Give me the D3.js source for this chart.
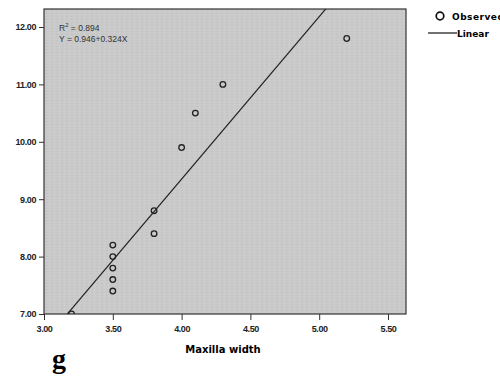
<!DOCTYPE html>
<html>
<head>
<meta charset="utf-8">
<script src="https://cdn.jsdelivr.net/npm/d3@7"></script>
<style>
  body { margin: 0; background: #fff; }
  svg { display: block; }
  .tick text { font-family: "Liberation Sans Narrow", "Liberation Sans", Arial, sans-serif; font-weight: bold; font-size: 9px; fill: #222; letter-spacing: -0.4px; }
</style>
</head>
<body>
<script>
// observed points
const maxillaWidth = [5.2, 4.3, 4.1, 4.0, 3.8, 3.8, 3.5, 3.5, 3.5, 3.5, 3.5, 3.2];
const observedY    = [11.8, 11.0, 10.5, 9.9, 8.8, 8.4, 8.2, 8.0, 7.8, 7.6, 7.4, 7.0];
const xTicks = [3.0, 3.5, 4.0, 4.5, 5.0, 5.5];
const yTicks = [7, 8, 9, 10, 11, 12];
// the drawn line (as it appears in the plot)
const lineIntercept = -1.97;
const lineSlope = 2.83;
const statLines = ["= 0.894", "Y  = 0.946+0.324X"];

const W = 500, H = 377;
const plotLeft = 44, plotRight = 406, plotTop = 9, plotBottom = 314;

const svg = d3.select("body").append("svg")
    .attr("width", W)
    .attr("height", H);

const x = d3.scaleLinear().domain([3.0, 5.5]).range([plotLeft, 388]);
const y = d3.scaleLinear().domain([7, 12]).range([plotBottom, 27]);

// gray textured plot background
const defs = svg.append("defs");
const pat = defs.append("pattern")
    .attr("id", "grain").attr("width", 5).attr("height", 3)
    .attr("patternUnits", "userSpaceOnUse");
pat.append("rect").attr("width", 5).attr("height", 3).attr("fill", "#cacaca");
pat.append("rect").attr("x", 1).attr("y", 1).attr("width", 2).attr("height", 1).attr("fill", "#c3c3c3");
pat.append("rect").attr("x", 4).attr("y", 2).attr("width", 1).attr("height", 1).attr("fill", "#d0d0d0");
defs.append("clipPath").attr("id", "plotclip")
  .append("rect").attr("x", plotLeft).attr("y", plotTop)
    .attr("width", plotRight - plotLeft).attr("height", plotBottom - plotTop);

svg.append("rect")
    .attr("x", plotLeft).attr("y", plotTop)
    .attr("width", plotRight - plotLeft).attr("height", plotBottom - plotTop)
    .attr("fill", "url(#grain)");

// axes
const xAxis = d3.axisBottom(x).tickValues(xTicks).tickFormat(d3.format(".2f")).tickSize(6).tickPadding(6);
const yAxis = d3.axisLeft(y).tickValues(yTicks).tickFormat(d3.format(".2f")).tickSize(5).tickPadding(3);

svg.append("g")
    .attr("transform", `translate(0,${plotBottom})`)
    .call(xAxis)
    .call(g => g.select(".domain").remove())
    .call(g => g.selectAll("line").attr("stroke", "#333"));

svg.append("g")
    .attr("transform", `translate(${plotLeft},0)`)
    .call(yAxis)
    .call(g => g.select(".domain").remove())
    .call(g => g.selectAll("line").attr("stroke", "#333"))
    .call(g => g.selectAll("text").attr("fill", "#444"));

// plot frame
svg.append("rect")
    .attr("x", plotLeft).attr("y", plotTop)
    .attr("width", plotRight - plotLeft).attr("height", plotBottom - plotTop)
    .attr("fill", "none").attr("stroke", "#333").attr("stroke-width", 1.2);

// fitted line
const plot = svg.append("g").attr("clip-path", "url(#plotclip)");
const xs = [3.0, 5.64];
plot.append("line")
    .attr("x1", x(xs[0])).attr("y1", y(lineIntercept + lineSlope * xs[0]))
    .attr("x2", x(xs[1])).attr("y2", y(lineIntercept + lineSlope * xs[1]))
    .attr("stroke", "#222").attr("stroke-width", 1.2);

// observed points
plot.selectAll("circle.obs")
    .data(maxillaWidth.map((d, i) => ({ x: d, y: observedY[i] })))
    .enter()
    .append("circle")
        .attr("class", "obs")
        .attr("cx", d => x(d.x))
        .attr("cy", d => y(d.y))
        .attr("r", 2.8)
        .attr("fill", "none")
        .attr("stroke", "#222")
        .attr("stroke-width", 1.3);

// R2 / equation
const stat = svg.append("text")
    .attr("x", 59).attr("y", 31)
    .style("font-family", "Liberation Sans, Arial, sans-serif")
    .style("font-size", "8.5px").attr("fill", "#333");
stat.append("tspan").text("R");
stat.append("tspan").attr("dy", -4).style("font-size", "6px").text("2");
stat.append("tspan").attr("dy", 4).text(" " + statLines[0]);
svg.append("text")
    .attr("x", 59).attr("y", 42)
    .style("font-family", "Liberation Sans, Arial, sans-serif")
    .style("font-size", "8.5px").attr("fill", "#333")
    .text(statLines[1]);

// axis title
svg.append("text")
    .attr("x", 223).attr("y", 353)
    .attr("text-anchor", "middle")
    .style("font-family", "DejaVu Sans, sans-serif")
    .style("font-weight", "bold").style("font-size", "10px")
    .text("Maxilla width");

// panel letter
svg.append("text")
    .attr("x", 52).attr("y", 368)
    .style("font-family", "Liberation Serif, Times New Roman, serif")
    .style("font-weight", "bold")
    .style("font-size", "28px")
    .text("g");

// legend
const lg = svg.append("g");
lg.append("circle").attr("cx", 440).attr("cy", 16).attr("r", 3.8)
    .attr("fill", "none").attr("stroke", "#111").attr("stroke-width", 1.7);
lg.append("text").attr("x", 452).attr("y", 20)
    .style("font-family", "DejaVu Sans, sans-serif")
    .style("font-weight", "bold").style("font-size", "9px")
    .style("letter-spacing", "0.5px")
    .text("Observed");
lg.append("line").attr("x1", 428).attr("x2", 457).attr("y1", 33).attr("y2", 33)
    .attr("stroke", "#111").attr("stroke-width", 1.2);
lg.append("text").attr("x", 457).attr("y", 37)
    .style("font-family", "DejaVu Sans, sans-serif")
    .style("font-weight", "bold").style("font-size", "9px")
    .text("Linear");
</script>
</body>
</html>
